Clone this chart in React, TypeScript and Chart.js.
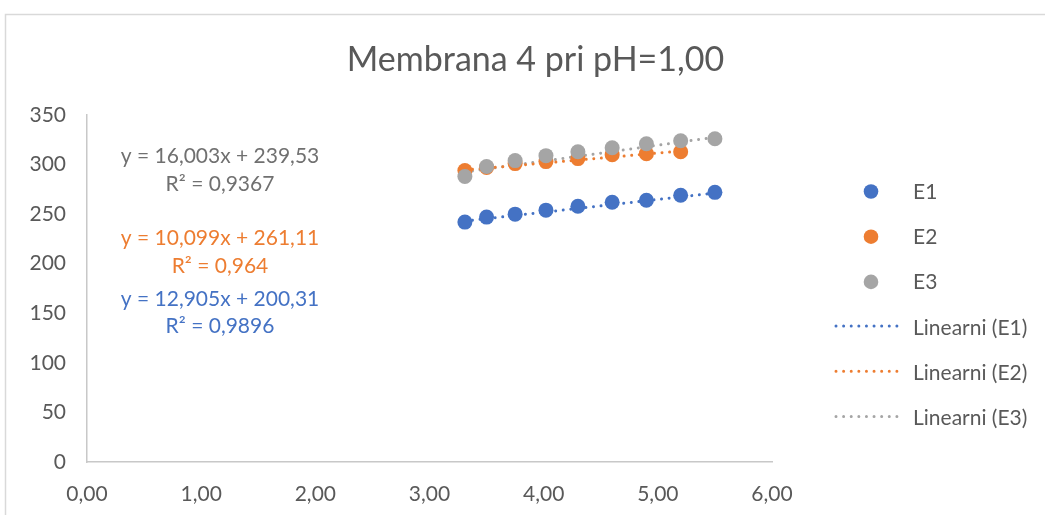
import React, { useEffect, useRef } from "react";
import { Chart, registerables } from "chart.js";

Chart.register(...registerables);

const FONT = "Lato";
const TEXT = "#595959";

const chartTitle = "Membrana 4 pri pH=1,00";
const seriesNames = ["E1", "E2", "E3"];
const trendNames = ["Linearni (E1)", "Linearni (E2)", "Linearni (E3)"];
const seriesColors = ["#4472C4", "#ED7D31", "#A5A5A5"];
const labelColors = ["#4472C4", "#ED7D31", "#707070"];

const xE1 = [3.31, 3.5, 3.75, 4.02, 4.3, 4.6, 4.9, 5.2, 5.5];
const yE1 = [242, 247, 250, 254, 258, 262, 264, 269, 272];
const xE2 = [3.31, 3.5, 3.75, 4.02, 4.3, 4.6, 4.9, 5.2];
const yE2 = [294, 297, 301, 303, 306, 310, 311, 313];
const xE3 = [3.31, 3.5, 3.75, 4.02, 4.3, 4.6, 4.9, 5.2, 5.5];
const yE3 = [288, 298, 304, 309, 313, 317, 321, 324, 326];

const trendSlopes = [12.905, 10.099, 16.003];
const trendIntercepts = [200.31, 261.11, 239.53];
const eqLabels = ["y = 12,905x + 200,31", "y = 10,099x + 261,11", "y = 16,003x + 239,53"];
const r2Labels = ["R² = 0,9896", "R² = 0,964", "R² = 0,9367"];

const xTickMin = 0;
const xTickMax = 6;
const xTickStep = 1;
const yTickMin = 0;
const yTickMax = 350;
const yTickStep = 50;

const xs = [xE1, xE2, xE3];
const ys = [yE1, yE2, yE3];

function fmt(v: number, d: number) {
  return v.toFixed(d).replace(".", ",");
}

const decorPlugin = {
  id: "decor",
  beforeDraw(chart: any) {
    const ctx = chart.ctx;
    ctx.save();
    ctx.fillStyle = "#ffffff";
    ctx.fillRect(0, 0, chart.width, chart.height);
    ctx.strokeStyle = "#D9D9D9";
    ctx.lineWidth = 1.5;
    ctx.strokeRect(5.5, 14.5, chart.width + 20, chart.height + 20);
    ctx.restore();
  },
  afterDraw(chart: any) {
    const ctx = chart.ctx;
    const xs_ = chart.scales.x;
    const ys_ = chart.scales.y;
    ctx.save();
    // title
    ctx.font = `34px ${FONT}`;
    ctx.fillStyle = TEXT;
    ctx.textAlign = "center";
    ctx.textBaseline = "alphabetic";
    ctx.fillText(chartTitle, 535.5, 71);

    // trendline labels (positioned in data coordinates)
    const labelX = 1.165;
    const labelYs = [
      [157.4, 129.8],
      [218.9, 190.9],
      [301.9, 273.4],
    ];
    ctx.font = `21px ${FONT}`;
    for (let i = 0; i < 3; i++) {
      ctx.fillStyle = labelColors[i];
      const px = xs_.getPixelForValue(labelX);
      ctx.fillText(eqLabels[i], px, ys_.getPixelForValue(labelYs[i][0]));
      ctx.fillText(r2Labels[i], px, ys_.getPixelForValue(labelYs[i][1]));
    }

    // legend
    const lx = 871;
    const tx = 913;
    const y0 = 191.5;
    const step = 45.2;
    ctx.textAlign = "left";
    ctx.font = `21px ${FONT}`;
    for (let i = 0; i < 3; i++) {
      const cy = y0 + step * i;
      ctx.beginPath();
      ctx.arc(lx, cy, 7.3, 0, Math.PI * 2);
      ctx.fillStyle = seriesColors[i];
      ctx.fill();
      ctx.fillStyle = TEXT;
      ctx.fillText(seriesNames[i], tx, cy + 7.5);
    }
    for (let i = 0; i < 3; i++) {
      const cy = y0 + step * (i + 3);
      ctx.beginPath();
      ctx.setLineDash([0.01, 7.6]);
      ctx.lineCap = "round";
      ctx.lineWidth = 3;
      ctx.strokeStyle = seriesColors[i];
      ctx.moveTo(836, cy - 1);
      ctx.lineTo(902, cy - 1);
      ctx.stroke();
      ctx.setLineDash([]);
      ctx.fillStyle = TEXT;
      ctx.fillText(trendNames[i], tx, cy + 7.5);
    }
    ctx.restore();
  },
};

export default function App() {
  const ref = useRef<HTMLCanvasElement | null>(null);
  useEffect(() => {
    if (!ref.current) return;
    const datasets: any[] = [];
    for (let i = 0; i < 3; i++) {
      const x0 = xs[i][0];
      const x1 = xs[i][xs[i].length - 1];
      datasets.push({
        type: "line",
        label: trendNames[i],
        data: [
          { x: x0, y: trendSlopes[i] * x0 + trendIntercepts[i] },
          { x: x1, y: trendSlopes[i] * x1 + trendIntercepts[i] },
        ],
        borderColor: seriesColors[i],
        borderWidth: 3,
        borderDash: [0.01, 7.6],
        borderCapStyle: "round",
        pointRadius: 0,
        fill: false,
        order: 10,
      });
    }
    for (let i = 0; i < 3; i++) {
      datasets.push({
        type: "scatter",
        label: seriesNames[i],
        data: xs[i].map((x, k) => ({ x, y: ys[i][k] })),
        backgroundColor: seriesColors[i],
        borderColor: seriesColors[i],
        borderWidth: 0,
        pointRadius: 7.5,
        order: 3 - i,
      });
    }
    const chart = new Chart(ref.current, {
      type: "scatter",
      data: { datasets },
      plugins: [decorPlugin],
      options: {
        responsive: false,
        animation: false,
        layout: { padding: { top: 115, right: 273, bottom: 0, left: 0 } },
        plugins: {
          legend: { display: false },
          title: { display: false },
          tooltip: { enabled: false },
        },
        scales: {
          x: {
            type: "linear",
            min: xTickMin,
            max: xTickMax,
            afterFit: (s: any) => {
              s.height = 53;
            },
            ticks: {
              stepSize: xTickStep,
              callback: (v: any) => fmt(Number(v), 2),
              font: { family: FONT, size: 21 },
              color: TEXT,
              padding: 20,
              maxRotation: 0,
            },
            grid: { color: "rgba(0,0,0,0)", drawTicks: false },
            border: { display: true, color: "#C8C8C8", width: 1.5 },
          },
          y: {
            type: "linear",
            min: yTickMin,
            max: yTickMax,
            afterFit: (s: any) => {
              s.width = 87;
            },
            ticks: {
              stepSize: yTickStep,
              callback: (v: any) => String(v),
              font: { family: FONT, size: 21 },
              color: TEXT,
              padding: 21,
            },
            grid: { color: "rgba(0,0,0,0)", drawTicks: false },
            border: { display: true, color: "#C8C8C8", width: 1.5 },
          },
        },
      },
    } as any);
    return () => chart.destroy();
  }, []);
  return (
    <div style={{ position: "absolute", left: 0, top: 0, width: 1045, height: 515, background: "#fff" }}>
      <canvas ref={ref} width={1045} height={515} style={{ width: 1045, height: 515 }} />
    </div>
  );
}
